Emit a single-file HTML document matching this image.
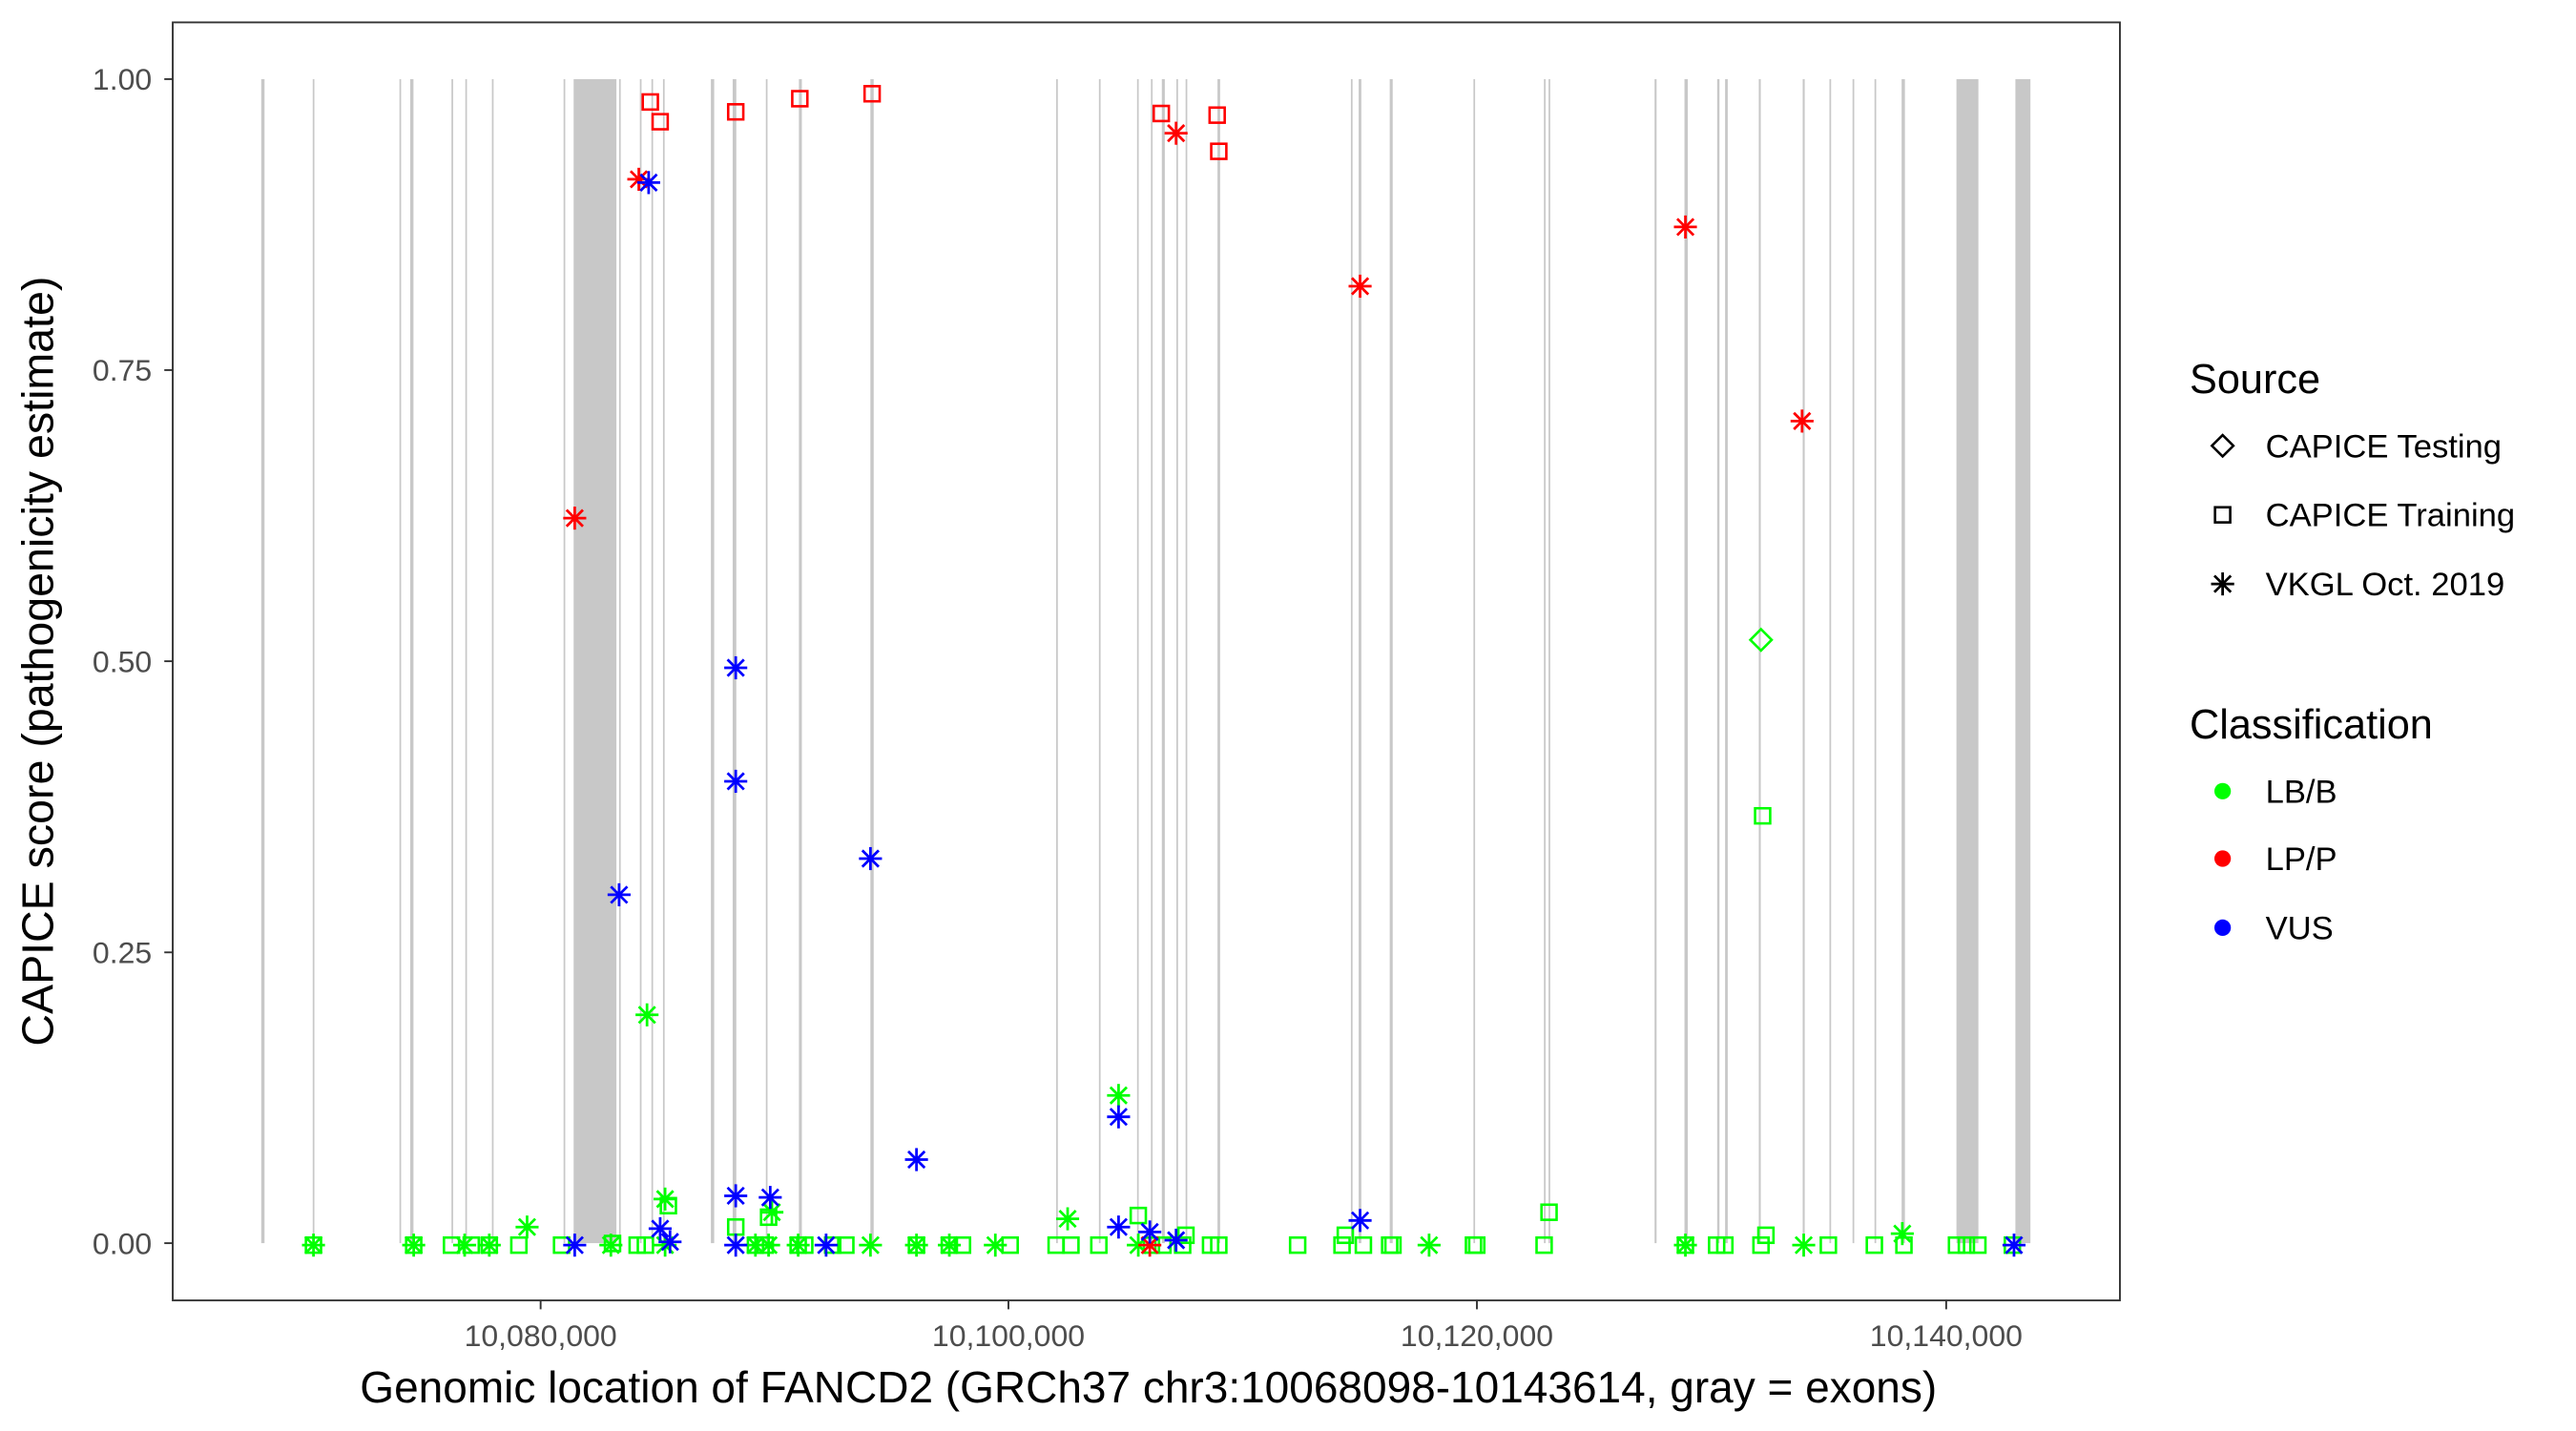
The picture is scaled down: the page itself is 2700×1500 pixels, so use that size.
<!DOCTYPE html>
<html><head><meta charset="utf-8"><style>
html,body{margin:0;padding:0;background:#fff;}
svg{display:block;}
text{font-family:"Liberation Sans",Arial,sans-serif;}
</style></head><body>
<svg width="2700" height="1500" viewBox="0 0 1560 870" preserveAspectRatio="none" xmlns="http://www.w3.org/2000/svg">
<defs>
<g id="sq"><rect x="-4.6" y="-4.6" width="9.2" height="9.2" fill="none" stroke="currentColor" stroke-width="1.5"/></g>
<g id="ast" stroke="currentColor" stroke-width="1.6"><line x1="-7" y1="0" x2="7" y2="0"/><line x1="0" y1="-7" x2="0" y2="7"/><line x1="-5" y1="-5" x2="5" y2="5"/><line x1="-5" y1="5" x2="5" y2="-5"/></g>
<g id="dia"><polygon points="0,-6.5 6.5,0 0,6.5 -6.5,0" fill="none" stroke="currentColor" stroke-width="1.5"/></g>
</defs>
<rect x="0" y="0" width="1560" height="870" fill="#fff"/>
<g fill="#c8c8c8">
<rect x="158.2" y="48.1" width="2" height="707.7"/>
<rect x="189.4" y="48.1" width="1" height="707.7"/>
<rect x="241.9" y="48.1" width="1" height="707.7"/>
<rect x="248.4" y="48.1" width="2" height="707.7"/>
<rect x="273.4" y="48.1" width="1" height="707.7"/>
<rect x="281.8" y="48.1" width="1" height="707.7"/>
<rect x="297.9" y="48.1" width="1" height="707.7"/>
<rect x="341.3" y="48.1" width="1" height="707.7"/>
<rect x="347.4" y="48.1" width="25.9" height="707.7"/>
<rect x="374.9" y="48.1" width="1" height="707.7"/>
<rect x="387.5" y="48.1" width="1" height="707.7"/>
<rect x="394.5" y="48.1" width="1" height="707.7"/>
<rect x="401.5" y="48.1" width="1" height="707.7"/>
<rect x="430.5" y="48.1" width="2" height="707.7"/>
<rect x="443.7" y="48.1" width="2.2" height="707.7"/>
<rect x="463.8" y="48.1" width="1" height="707.7"/>
<rect x="483.8" y="48.1" width="1.8" height="707.7"/>
<rect x="527.1" y="48.1" width="2" height="707.7"/>
<rect x="639.6" y="48.1" width="1" height="707.7"/>
<rect x="665.5" y="48.1" width="1" height="707.7"/>
<rect x="688.6" y="48.1" width="1" height="707.7"/>
<rect x="697" y="48.1" width="1" height="707.7"/>
<rect x="703.6" y="48.1" width="1.8" height="707.7"/>
<rect x="712.4" y="48.1" width="1" height="707.7"/>
<rect x="718" y="48.1" width="1" height="707.7"/>
<rect x="737.3" y="48.1" width="1.6" height="707.7"/>
<rect x="818.1" y="48.1" width="1" height="707.7"/>
<rect x="822.8" y="48.1" width="1.6" height="707.7"/>
<rect x="841.6" y="48.1" width="1.8" height="707.7"/>
<rect x="892.3" y="48.1" width="1" height="707.7"/>
<rect x="935" y="48.1" width="1" height="707.7"/>
<rect x="937.8" y="48.1" width="1" height="707.7"/>
<rect x="1002" y="48.1" width="1.2" height="707.7"/>
<rect x="1020.1" y="48.1" width="2" height="707.7"/>
<rect x="1039.9" y="48.1" width="1.4" height="707.7"/>
<rect x="1044.7" y="48.1" width="1.6" height="707.7"/>
<rect x="1065.1" y="48.1" width="1.2" height="707.7"/>
<rect x="1091.7" y="48.1" width="1.2" height="707.7"/>
<rect x="1107.9" y="48.1" width="1" height="707.7"/>
<rect x="1121.9" y="48.1" width="1" height="707.7"/>
<rect x="1135.2" y="48.1" width="1" height="707.7"/>
<rect x="1151.6" y="48.1" width="2" height="707.7"/>
<rect x="1184.8" y="48.1" width="13.3" height="707.7"/>
<rect x="1220.5" y="48.1" width="9.1" height="707.7"/>
</g>
<g transform="translate(159,0) scale(0.995,1) translate(-160,0)">
<g style="color:#00ff00">
<use href="#sq" x="191" y="757"/><use href="#sq" x="252" y="757"/><use href="#sq" x="275" y="757"/><use href="#sq" x="287" y="757"/><use href="#sq" x="298" y="757"/><use href="#sq" x="316" y="757"/><use href="#sq" x="342" y="757"/><use href="#sq" x="373" y="756"/><use href="#sq" x="388" y="757"/><use href="#sq" x="393" y="757"/><use href="#sq" x="460" y="757"/><use href="#sq" x="466" y="757"/><use href="#sq" x="486" y="757"/><use href="#sq" x="490" y="757"/><use href="#sq" x="507" y="757"/><use href="#sq" x="515" y="757"/><use href="#sq" x="558" y="757"/><use href="#sq" x="578" y="757"/><use href="#sq" x="586" y="757"/><use href="#sq" x="615" y="757"/><use href="#sq" x="643" y="757"/><use href="#sq" x="652" y="757"/><use href="#sq" x="669" y="757"/><use href="#sq" x="720" y="757"/><use href="#sq" x="737" y="757"/><use href="#sq" x="742" y="757"/><use href="#sq" x="790" y="757"/><use href="#sq" x="817" y="757"/><use href="#sq" x="830" y="757"/><use href="#sq" x="846" y="757"/><use href="#sq" x="848" y="757"/><use href="#sq" x="897" y="757"/><use href="#sq" x="899" y="757"/><use href="#sq" x="940" y="757"/><use href="#sq" x="1045" y="757"/><use href="#sq" x="1050" y="757"/><use href="#sq" x="1072" y="757"/><use href="#sq" x="1113" y="757"/><use href="#sq" x="1141" y="757"/><use href="#sq" x="1159" y="757"/><use href="#sq" x="1191" y="757"/><use href="#sq" x="1197" y="757"/><use href="#sq" x="1204" y="757"/><use href="#sq" x="1225" y="757"/>
<use href="#sq" x="1073" y="496"/><use href="#sq" x="943" y="737"/><use href="#sq" x="1075" y="751"/><use href="#sq" x="693" y="739"/><use href="#sq" x="448" y="746"/><use href="#sq" x="468" y="740"/><use href="#sq" x="407" y="733"/><use href="#sq" x="1026" y="757"/><use href="#sq" x="701" y="757"/><use href="#sq" x="708" y="757"/><use href="#sq" x="722" y="751"/><use href="#sq" x="819" y="751"/>
<use href="#dia" x="1072" y="389"/>
<use href="#ast" x="394" y="617"/><use href="#ast" x="681" y="666"/><use href="#ast" x="405" y="729"/><use href="#ast" x="321" y="746"/><use href="#ast" x="650" y="741"/><use href="#ast" x="470" y="737"/><use href="#ast" x="1158" y="750"/>
<use href="#ast" x="191" y="757"/><use href="#ast" x="252" y="757"/><use href="#ast" x="283" y="757"/><use href="#ast" x="298" y="757"/><use href="#ast" x="372" y="757"/><use href="#ast" x="405" y="757"/><use href="#ast" x="460" y="757"/><use href="#ast" x="468" y="757"/><use href="#ast" x="486" y="757"/><use href="#ast" x="530" y="757"/><use href="#ast" x="558" y="757"/><use href="#ast" x="578" y="757"/><use href="#ast" x="606" y="757"/><use href="#ast" x="693" y="757"/><use href="#ast" x="870" y="757"/><use href="#ast" x="1026" y="757"/><use href="#ast" x="1098" y="757"/>
</g>
<g style="color:#ff0000">
<use href="#sq" x="396" y="62"/><use href="#sq" x="402" y="74"/><use href="#sq" x="448" y="68"/><use href="#sq" x="487" y="60"/><use href="#sq" x="531" y="57"/><use href="#sq" x="707" y="69"/><use href="#sq" x="741" y="70"/><use href="#sq" x="742" y="92"/>
<use href="#ast" x="389" y="109"/><use href="#ast" x="350" y="315"/><use href="#ast" x="716" y="81"/><use href="#ast" x="828" y="174"/><use href="#ast" x="1026" y="138"/><use href="#ast" x="1097" y="256"/><use href="#ast" x="700" y="757"/>
</g>
<g style="color:#0000ff">
<use href="#ast" x="395" y="111"/><use href="#ast" x="448" y="406"/><use href="#ast" x="448" y="475"/><use href="#ast" x="377" y="544"/><use href="#ast" x="530" y="522"/><use href="#ast" x="558" y="705"/><use href="#ast" x="681" y="679"/><use href="#ast" x="448" y="727"/><use href="#ast" x="469" y="728"/><use href="#ast" x="402" y="747"/><use href="#ast" x="681" y="746"/><use href="#ast" x="700" y="749"/><use href="#ast" x="716" y="754"/><use href="#ast" x="828" y="742"/><use href="#ast" x="350" y="757"/><use href="#ast" x="408" y="755"/><use href="#ast" x="448" y="757"/><use href="#ast" x="1226" y="757"/><use href="#ast" x="503" y="757"/>
</g>
</g>
<rect x="104.6" y="13.6" width="1179.2" height="777" fill="none" stroke="#333" stroke-width="1.1"/>
<g stroke="#333" stroke-width="1.1">
<line x1="99.5" y1="48.1" x2="104.6" y2="48.1"/><line x1="99.5" y1="225" x2="104.6" y2="225"/><line x1="99.5" y1="402" x2="104.6" y2="402"/><line x1="99.5" y1="579" x2="104.6" y2="579"/><line x1="99.5" y1="755.8" x2="104.6" y2="755.8"/>
<line x1="327.4" y1="790.6" x2="327.4" y2="796"/><line x1="610.7" y1="790.6" x2="610.7" y2="796"/><line x1="894.4" y1="790.6" x2="894.4" y2="796"/><line x1="1178.6" y1="790.6" x2="1178.6" y2="796"/>
</g>
<g fill="#4d4d4d" font-size="18.5" text-anchor="end">
<text x="92" y="54.6">1.00</text><text x="92" y="231.5">0.75</text><text x="92" y="408.5">0.50</text><text x="92" y="585.5">0.25</text><text x="92" y="762.3">0.00</text>
</g>
<g fill="#4d4d4d" font-size="18.5" text-anchor="middle">
<text x="327.4" y="818.4">10,080,000</text><text x="610.7" y="818.4">10,100,000</text><text x="894.4" y="818.4">10,120,000</text><text x="1178.6" y="818.4">10,140,000</text>
</g>
<text x="218" y="852.6" font-size="27" fill="#000" textLength="955" lengthAdjust="spacingAndGlyphs">Genomic location of FANCD2 (GRCh37 chr3:10068098-10143614, gray = exons)</text>
<text transform="translate(32,402) rotate(-90)" font-size="27" fill="#000" text-anchor="middle">CAPICE score (pathogenicity estimate)</text>
<text x="1326" y="239" font-size="25" fill="#000">Source</text>
<g style="color:#000">
<use href="#dia" x="1346" y="271"/>
<use href="#sq" x="1346" y="313"/>
<use href="#ast" x="1346" y="355"/>
</g>
<g font-size="20" fill="#000">
<text x="1372" y="278">CAPICE Testing</text>
<text x="1372" y="320">CAPICE Training</text>
<text x="1372" y="362">VKGL Oct. 2019</text>
</g>
<text x="1326" y="449" font-size="25" fill="#000">Classification</text>
<circle cx="1346" cy="481" r="5" fill="#00ff00"/><circle cx="1346" cy="522" r="5" fill="#ff0000"/><circle cx="1346" cy="564" r="5" fill="#0000ff"/>
<g font-size="20" fill="#000">
<text x="1372" y="488">LB/B</text><text x="1372" y="529">LP/P</text><text x="1372" y="571">VUS</text>
</g>
</svg>
</body></html>
